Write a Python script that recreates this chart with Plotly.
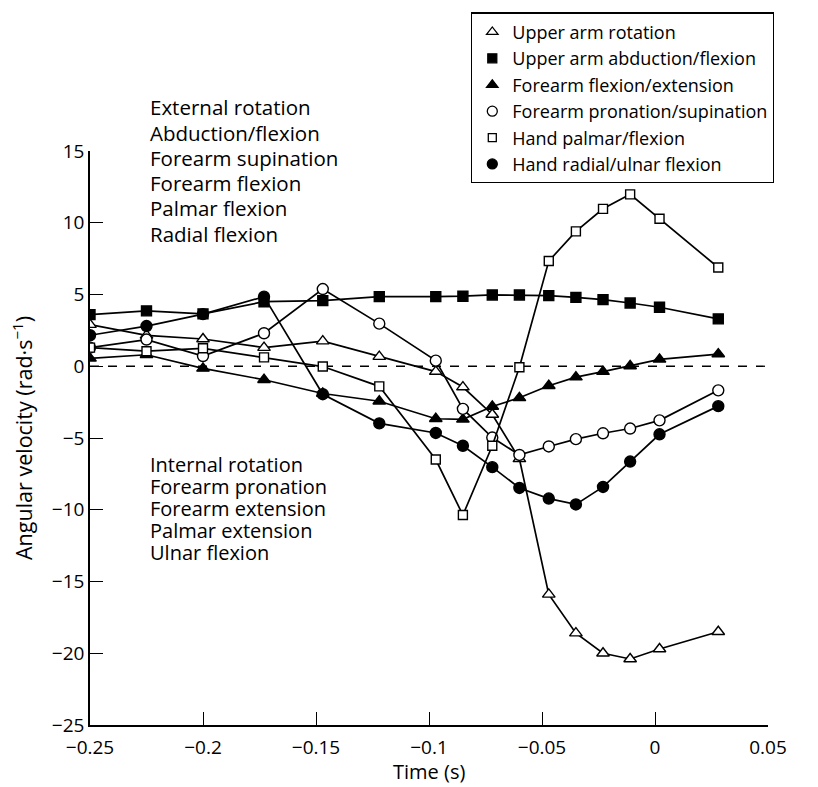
import plotly.graph_objects as go

# Time points (s)
time = [-0.25, -0.225, -0.2, -0.173, -0.147, -0.122, -0.097, -0.085,
        -0.072, -0.060, -0.047, -0.035, -0.023, -0.011, 0.002, 0.028]

upper_arm_rotation = [2.9, 2.15, 1.9, 1.3, 1.75, 0.67, -0.37, -1.45,
                      -3.36, -6.45, -15.9, -18.6, -20.0, -20.4, -19.7, -18.5]
upper_arm_abduction = [3.6, 3.86, 3.65, 4.5, 4.57, 4.85, 4.85, 4.88,
                       4.97, 4.97, 4.92, 4.8, 4.64, 4.41, 4.11, 3.3]
forearm_flexion = [0.55, 0.8, -0.15, -0.94, -1.9, -2.44, -3.66, -3.7,
                   -2.8, -2.2, -1.36, -0.76, -0.37, 0.02, 0.48, 0.85]
forearm_pronation = [1.3, 1.86, 0.71, 2.3, 5.38, 2.97, 0.39, -2.97,
                     -4.97, -6.18, -5.59, -5.08, -4.67, -4.34, -3.77, -1.68]
hand_palmar = [1.3, 1.05, 1.25, 0.62, -0.02, -1.4, -6.5, -10.37,
               -5.54, -0.07, 7.33, 9.4, 10.97, 11.98, 10.28, 6.88]
hand_radial = [2.16, 2.8, 3.63, 4.85, -1.95, -3.98, -4.65, -5.54,
               -7.03, -8.48, -9.22, -9.63, -8.41, -6.64, -4.74, -2.78]

series_names = ["Upper arm rotation", "Upper arm abduction/flexion",
                "Forearm flexion/extension", "Forearm pronation/supination",
                "Hand palmar/flexion", "Hand radial/ulnar flexion"]
series_values = [upper_arm_rotation, upper_arm_abduction, forearm_flexion,
                 forearm_pronation, hand_palmar, hand_radial]

upper_labels = ["External rotation", "Abduction/flexion", "Forearm supination",
                "Forearm flexion", "Palmar flexion", "Radial flexion"]
lower_labels = ["Internal rotation", "Forearm pronation", "Forearm extension",
                "Palmar extension", "Ulnar flexion"]

x_title = "Time (s)"
y_title = "Angular velocity (rad\u00b7s<sup>\u22121</sup>)"

x_ticks = [-0.25, -0.2, -0.15, -0.1, -0.05, 0, 0.05]
x_tick_text = ["\u22120.25", "\u22120.2", "\u22120.15", "\u22120.1", "\u22120.05", "0", "0.05"]
y_ticks = [-25, -20, -15, -10, -5, 0, 5, 10, 15]
y_tick_text = ["\u221225", "\u221220", "\u221215", "\u221210", "\u22125", "0", "5", "10", "15"]

# styles
styles = [
    dict(symbol="triangle-up", color="white", size=11),
    dict(symbol="square", color="black", size=10),
    dict(symbol="triangle-up", color="black", size=11),
    dict(symbol="circle", color="white", size=11),
    dict(symbol="square", color="white", size=9),
    dict(symbol="circle", color="black", size=11),
]

FONT = "Open Sans"
fig = go.Figure()

for i in range(6):
    st = styles[i]
    fig.add_trace(go.Scatter(
        x=time, y=series_values[i], mode="lines+markers",
        line=dict(color="black", width=1.7),
        marker=dict(symbol=st["symbol"], color=st["color"], size=st["size"],
                    line=dict(color="black", width=1.4)),
        showlegend=False, name=series_names[i]))

for i in range(6):
    st = styles[i]
    fig.add_trace(go.Scatter(
        x=[None], y=[None], mode="markers", name=series_names[i],
        marker=dict(symbol=st["symbol"], color=st["color"], size=st["size"] - 1,
                    line=dict(color="black", width=1.3)),
        showlegend=True))

# zero reference line
fig.add_shape(type="line", xref="paper", yref="y", x0=0, x1=1, y0=0, y1=0,
              line=dict(color="black", width=1.3, dash="dash"), layer="below")

# text blocks (pixel-derived paper coords)
plot_top, plot_h, plot_left, plot_w = 145, 580, 90, 678
def py_to_paper(py):
    return (plot_top + plot_h - py) / plot_h

upper_y = [101, 126.5, 152, 177.5, 203, 228.5]
lower_y = [462, 484, 506, 528, 551]
x_text = (148 - plot_left) / plot_w
for lab, yy in zip(upper_labels, upper_y):
    fig.add_annotation(text=lab, xref="paper", yref="paper", x=x_text, y=py_to_paper(yy),
                       xanchor="left", yanchor="middle", showarrow=False,
                       font=dict(family=FONT, size=20.5, color="black"))
for lab, yy in zip(lower_labels, lower_y):
    fig.add_annotation(text=lab, xref="paper", yref="paper", x=x_text, y=py_to_paper(yy),
                       xanchor="left", yanchor="middle", showarrow=False,
                       font=dict(family=FONT, size=20, color="black"))

# x-axis title as annotation (precise placement)
fig.add_annotation(text=x_title, xref="paper", yref="paper", x=0.5, y=py_to_paper(772),
                   xanchor="center", yanchor="middle", showarrow=False,
                   font=dict(family=FONT, size=20, color="black"))

fig.update_layout(
    template="none",
    width=818, height=787,
    margin=dict(l=plot_left, r=818 - plot_left - plot_w, t=plot_top, b=787 - plot_top - plot_h),
    paper_bgcolor="white", plot_bgcolor="white",
    font=dict(family=FONT, size=18, color="black"),
    legend=dict(x=(471 - plot_left) / plot_w, y=(725 - 5) / 580, xanchor="left", yanchor="top",
                bordercolor="black", borderwidth=1.3, bgcolor="white",
                font=dict(family=FONT, size=18, color="black"),
                itemwidth=30, tracegroupgap=0, entrywidth=300, entrywidthmode="pixels"),
    xaxis=dict(range=[-0.25, 0.05], tickvals=x_ticks, ticktext=x_tick_text, automargin=False,
               showgrid=False, zeroline=False, showline=True, linecolor="black",
               linewidth=1.5, ticks="inside", ticklen=13, tickwidth=1.3, tickcolor="black",
               ticklabelstandoff=4,
               tickfont=dict(family=FONT, size=19)),
    yaxis=dict(range=[-25, 15], tickvals=y_ticks, ticktext=y_tick_text, automargin=False,
               showgrid=False, zeroline=False, showline=True, linecolor="black",
               linewidth=1.5, ticks="inside", ticklen=13, tickwidth=1.3, tickcolor="black",
               title=dict(text=y_title, font=dict(family=FONT, size=21.5), standoff=13),
               tickfont=dict(family=FONT, size=19)),
)

fig.write_html("out.html", config={"displayModeBar": False},
               post_script="document.body.style.margin='0';")
